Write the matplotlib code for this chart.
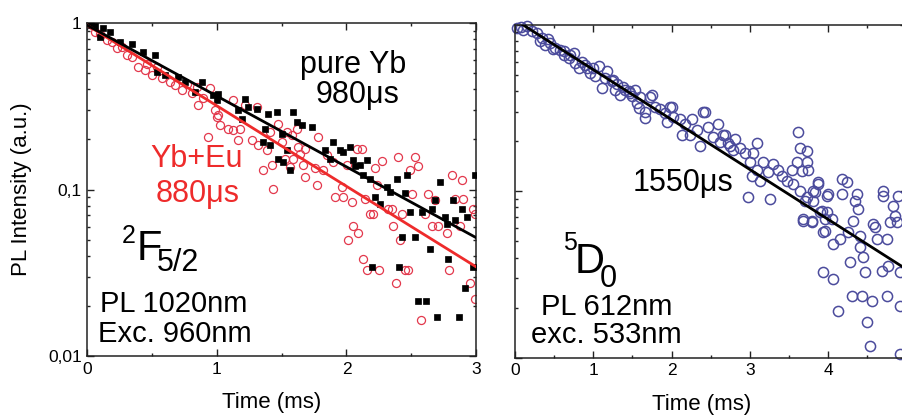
import matplotlib.pyplot as plt
from matplotlib.ticker import MultipleLocator, LogLocator, NullFormatter

plt.rcParams['font.family'] = ['Liberation Sans', 'DejaVu Sans']

# left panel: 2F5/2 decay, pure Yb (black squares) and Yb+Eu (red circles)
black_t = [0.03, 0.059, 0.123, 0.098, 0.175, 0.252, 0.342, 0.432, 0.522, 0.535, 0.599, 0.702, 0.754,
           0.882, 0.831, 0.972, 0.998, 1.011, 1.165, 1.217, 1.243, 1.307, 1.397, 1.461, 1.590, 1.191,
           1.371, 1.358, 1.410, 1.474, 1.513, 1.564, 1.616, 1.654, 1.731, 1.500, 1.538, 1.834, 1.873,
           1.899, 1.950, 1.976, 2.027, 2.053, 2.066, 2.104, 2.156, 2.130, 2.182, 2.220, 2.259, 2.310,
           2.336, 2.387, 2.452, 2.465, 2.490, 2.529, 2.426, 2.580, 2.658, 2.683, 2.722, 2.760, 2.773,
           2.825, 2.838, 2.889, 2.928, 2.992, 2.645, 2.786, 2.979, 2.194, 2.408, 2.915, 2.555, 2.614,
           2.701, 2.871]
black_y = [0.968, 0.955, 0.929, 0.828, 0.883, 0.773, 0.752, 0.673, 0.643, 0.511, 0.488, 0.477, 0.445,
           0.445, 0.387, 0.370, 0.345, 0.377, 0.299, 0.352, 0.313, 0.306, 0.286, 0.292, 0.292, 0.267,
           0.232, 0.193, 0.185, 0.153, 0.147, 0.131, 0.255, 0.243, 0.238, 0.217, 0.172, 0.172, 0.153,
           0.193, 0.172, 0.168, 0.180, 0.151, 0.138, 0.140, 0.151, 0.122, 0.116, 0.0904, 0.0824, 0.104,
           0.0968, 0.116, 0.0955, 0.122, 0.0735, 0.052, 0.052, 0.0735, 0.0769, 0.0863, 0.111, 0.0686,
           0.0625, 0.0863, 0.0655, 0.0769, 0.0686, 0.122, 0.0443, 0.0385, 0.0344, 0.0344, 0.0344,
           0.0258, 0.0215, 0.0215, 0.0172, 0.0172]

red_t = [0.033, 0.059, 0.098, 0.149, 0.188, 0.226, 0.265, 0.304, 0.342, 0.394, 0.445, 0.458, 0.497,
         0.535, 0.574, 0.638, 0.677, 0.728, 0.767, 0.805, 0.844, 0.857, 0.895, 0.947, 0.985, 0.998,
         1.024, 0.934, 1.011, 1.127, 1.217, 1.307, 1.088, 1.127, 1.178, 1.165, 1.268, 1.320, 1.384,
         1.410, 1.474, 1.500, 1.538, 1.577, 1.616, 1.629, 1.680, 1.783, 1.358, 1.423, 1.436, 1.526,
         1.590, 1.564, 1.641, 1.667, 1.757, 1.680, 1.770, 1.821, 1.847, 1.899, 1.963, 1.911, 1.976,
         2.079, 2.117, 2.002, 2.040, 2.143, 2.220, 2.272, 2.400, 2.529, 2.555, 2.490, 2.233, 2.323,
         2.349, 2.182, 2.207, 2.426, 2.503, 2.632, 2.606, 2.683, 2.812, 2.889, 2.838, 2.902, 2.979,
         2.658, 2.709, 2.773, 2.876, 2.053, 2.092, 2.014, 2.362, 2.413, 2.995, 2.125, 2.161, 2.254,
         2.382, 2.452, 2.477, 2.575, 2.794, 2.953, 2.992]
red_y = [0.973, 0.887, 0.863, 0.791, 0.773, 0.705, 0.718, 0.643, 0.628, 0.547, 0.522, 0.570, 0.488,
         0.545, 0.466, 0.445, 0.425, 0.396, 0.433, 0.378, 0.413, 0.322, 0.353, 0.406, 0.301, 0.274,
         0.244, 0.208, 0.279, 0.344, 0.321, 0.313, 0.232, 0.227, 0.232, 0.198, 0.198, 0.185, 0.172,
         0.222, 0.249, 0.193, 0.222, 0.212, 0.232, 0.180, 0.176, 0.207, 0.131, 0.140, 0.101, 0.153,
         0.153, 0.137, 0.164, 0.140, 0.134, 0.119, 0.106, 0.131, 0.161, 0.147, 0.104, 0.0904, 0.0904,
         0.176, 0.176, 0.140, 0.0843, 0.0883, 0.134, 0.149, 0.156, 0.156, 0.138, 0.132, 0.106, 0.0769,
         0.0769, 0.0718, 0.0718, 0.0718, 0.0938, 0.0938, 0.0718, 0.0863, 0.122, 0.115, 0.0883, 0.0883,
         0.0769, 0.0603, 0.0603, 0.055, 0.0603, 0.0603, 0.055, 0.0497, 0.0603, 0.0497, 0.0718, 0.0385,
         0.0331, 0.0331, 0.0275, 0.0331, 0.0331, 0.0166, 0.0331, 0.0275, 0.0219]

# exponential fits drawn as straight lines on the log axis (end points)
fit_t = [0.0, 3.0]
fit_yb = [0.97, 0.0515]
fit_ybeu = [0.97, 0.0344]

# right panel: 5D0 decay (blue circles)
blue_t = [0.026, 0.08, 0.10, 0.153, 0.217, 0.281, 0.32, 0.345, 0.383, 0.42, 0.447, 0.48, 0.511, 0.575,
          0.62, 0.626, 0.690, 0.70, 0.754, 0.766, 0.817, 0.85, 0.894, 0.92, 0.958, 1.0, 1.022, 1.073,
          1.111, 1.15, 1.175, 1.239, 1.277, 1.30, 1.341, 1.405, 1.45, 1.494, 1.558, 1.584,
          1.252, 1.379, 1.469, 1.533, 1.596, 1.66, 1.72, 1.660, 1.750, 1.788, 1.852, 1.916, 1.980,
          2.0, 2.018, 1.941, 2.107, 2.171, 2.261, 2.324, 2.40, 2.427, 2.465, 2.529, 2.593, 2.618,
          2.682, 2.746, 2.810, 2.363, 2.235, 2.133,
          2.656, 2.720, 2.784, 2.874, 2.937, 3.040, 3.091, 3.001, 3.091, 3.167, 3.231, 3.295, 3.359,
          3.410, 3.474, 3.538, 3.602, 3.665, 3.729, 3.742, 3.614, 3.640, 3.729, 3.550, 3.640, 3.729,
          3.806, 3.870, 3.985, 3.678, 3.793, 3.921, 3.959, 3.934, 2.976, 3.257, 3.129, 3.027,
          3.870, 3.831, 3.806, 3.704, 3.997, 4.176, 4.240, 4.176, 4.368, 4.342, 4.381, 3.895, 3.985,
          4.049, 3.678, 3.793, 3.959, 4.151, 4.061, 4.253, 4.317, 4.406, 4.406, 4.444, 4.278, 4.572,
          4.598, 4.623, 4.751, 4.700, 4.700, 4.853, 4.879, 4.789, 4.764, 4.687, 4.470, 4.917, 3.934,
          4.061, 4.304, 4.432, 4.559, 4.751, 4.125, 4.496, 4.534, 4.917, 4.917, 4.828, 4.891]
blue_y = [0.959, 0.97, 0.93, 0.986, 0.920, 0.895, 0.80, 0.836, 0.759, 0.82, 0.780, 0.72, 0.728, 0.708,
          0.70, 0.661, 0.634, 0.66, 0.679, 0.592, 0.553, 0.60, 0.575, 0.55, 0.516, 0.55, 0.495, 0.568,
          0.420, 0.48, 0.531, 0.462, 0.408, 0.44, 0.381, 0.408, 0.40, 0.376, 0.341, 0.318,
          0.469, 0.425, 0.392, 0.408, 0.366, 0.277, 0.370, 0.301, 0.381, 0.323, 0.310, 0.297, 0.323,
          0.323, 0.281, 0.259, 0.270, 0.252, 0.270, 0.235, 0.300, 0.301, 0.242, 0.213, 0.252, 0.199,
          0.219, 0.186, 0.205, 0.186, 0.219, 0.219,
          0.219, 0.196, 0.178, 0.183, 0.171, 0.171, 0.196, 0.149, 0.135, 0.149, 0.130, 0.145, 0.135,
          0.123, 0.115, 0.135, 0.151, 0.132, 0.149, 0.135, 0.226, 0.183, 0.174, 0.110, 0.100, 0.092,
          0.100, 0.110, 0.0933, 0.0679, 0.0652, 0.0759, 0.0679, 0.0568, 0.092, 0.0895, 0.115, 0.123,
          0.113, 0.0986, 0.0871, 0.0871, 0.0959, 0.118, 0.113, 0.0959, 0.0959, 0.0871, 0.078, 0.0748,
          0.0748, 0.0679, 0.0661, 0.0661, 0.0576, 0.0516, 0.0482, 0.0568, 0.0661, 0.0538, 0.0462,
          0.0403, 0.0376, 0.0634, 0.0608, 0.0516, 0.0516, 0.100, 0.0933, 0.0708, 0.0652, 0.0652,
          0.0356, 0.0332, 0.0327, 0.0327, 0.0327, 0.0297, 0.0235, 0.0235, 0.0219, 0.0235, 0.0191,
          0.0164, 0.0118, 0.0205, 0.0106, 0.0813, 0.0933]
fit_eu_t = [0.1, 5.0]
fit_eu_y = [1.0, 0.034]

ytick_vals = [0.01, 0.1, 1]
ytick_labels = ['0,01', '0,1', '1']
xtick_right = [0, 1, 2, 3, 4, 5]
xtick_right_labels = ['0', '1', '2', '3', '4', '']  # the 5 falls outside the cropped figure

RED = '#ee2b2b'
RED_MARK = '#e3384c'
BLUE = '#4b4b9c'

fig = plt.figure(figsize=(9.02, 4.2), dpi=100)
ax1 = fig.add_axes([0.0968, 0.152, 0.431, 0.793])
ax2 = fig.add_axes([0.571, 0.148, 0.434, 0.793])


def style_axis(ax, xmax):
    ax.set_yscale('log')
    ax.set_ylim(0.01, 1)
    ax.set_xlim(0, xmax)
    ax.xaxis.set_major_locator(MultipleLocator(1))
    ax.xaxis.set_minor_locator(MultipleLocator(0.5))
    ax.yaxis.set_minor_locator(LogLocator(base=10, subs=range(2, 10)))
    ax.yaxis.set_minor_formatter(NullFormatter())
    ax.set_yticks(ytick_vals)
    ax.tick_params(which='both', direction='in', top=True, right=True, width=1.0, colors='#222222')
    ax.tick_params(which='major', length=5, labelsize=12.5, pad=4, labelcolor='black')
    ax.tick_params(which='minor', length=2.5)
    for s in ax.spines.values():
        s.set_linewidth(1.1)
        s.set_color('#222222')


style_axis(ax1, 3)
ax1.set_yticklabels(ytick_labels)
ax1.plot(red_t, red_y, 'o', ms=5.8, mfc='none', mec=RED_MARK, mew=0.9, zorder=2)
ax1.plot(black_t, black_y, 's', ms=5, mfc='black', mec='black', mew=0.5, zorder=3)
ax1.plot(fit_t, fit_ybeu, color=RED, lw=2.0, zorder=4)
ax1.plot(fit_t, fit_yb, color='black', lw=2.0, zorder=5)
ax1.set_xlabel('Time (ms)', fontsize=16)
ax1.xaxis.set_label_coords(0.474, -0.108)
ax1.set_ylabel('PL Intensity (a.u.)', fontsize=16)
ax1.yaxis.set_label_coords(-0.142, 0.5)

ax1.text(0.683, 0.874, 'pure Yb', transform=ax1.transAxes, fontsize=22, ha='center', va='center')
ax1.text(0.695, 0.784, '980\u03bcs', transform=ax1.transAxes, fontsize=22, ha='center', va='center')
ax1.text(0.282, 0.592, 'Yb+Eu', transform=ax1.transAxes, fontsize=22, ha='center', va='center',
         color=RED)
ax1.text(0.284, 0.486, '880\u03bcs', transform=ax1.transAxes, fontsize=22, ha='center', va='center',
         color=RED)
ax1.text(0.0895, 0.339, '2', transform=ax1.transAxes, fontsize=18, va='baseline')
ax1.text(0.128, 0.288, 'F', transform=ax1.transAxes, fontsize=30, va='baseline')
ax1.text(0.180, 0.255, '5/2', transform=ax1.transAxes, fontsize=22, va='baseline')
ax1.text(0.033, 0.132, 'PL 1020nm', transform=ax1.transAxes, fontsize=21, va='baseline')
ax1.text(0.028, 0.042, 'Exc. 960nm', transform=ax1.transAxes, fontsize=21, va='baseline')

style_axis(ax2, 5)
ax2.set_xticks(xtick_right)
ax2.set_xticklabels(xtick_right_labels)
ax2.set_yticklabels([])
ax2.plot(blue_t, blue_y, 'o', ms=7.3, mfc='none', mec=BLUE, mew=1.1, zorder=2, clip_on=False)
ax2.plot(fit_eu_t, fit_eu_y, color='black', lw=2.0, zorder=4)
ax2.set_xlabel('Time (ms)', fontsize=16)
ax2.xaxis.set_label_coords(0.476, -0.108)

ax2.text(0.428, 0.502, '1550\u03bcs', transform=ax2.transAxes, fontsize=22, ha='center',
         va='baseline')
ax2.text(0.123, 0.324, '5', transform=ax2.transAxes, fontsize=18, va='baseline')
ax2.text(0.153, 0.255, 'D', transform=ax2.transAxes, fontsize=30, va='baseline')
ax2.text(0.217, 0.213, '0', transform=ax2.transAxes, fontsize=22, va='baseline')
ax2.text(0.234, 0.129, 'PL 612nm', transform=ax2.transAxes, fontsize=21, ha='center',
         va='baseline')
ax2.text(0.234, 0.045, 'exc. 533nm', transform=ax2.transAxes, fontsize=21, ha='center',
         va='baseline')

fig.savefig('out.png', dpi=100)
